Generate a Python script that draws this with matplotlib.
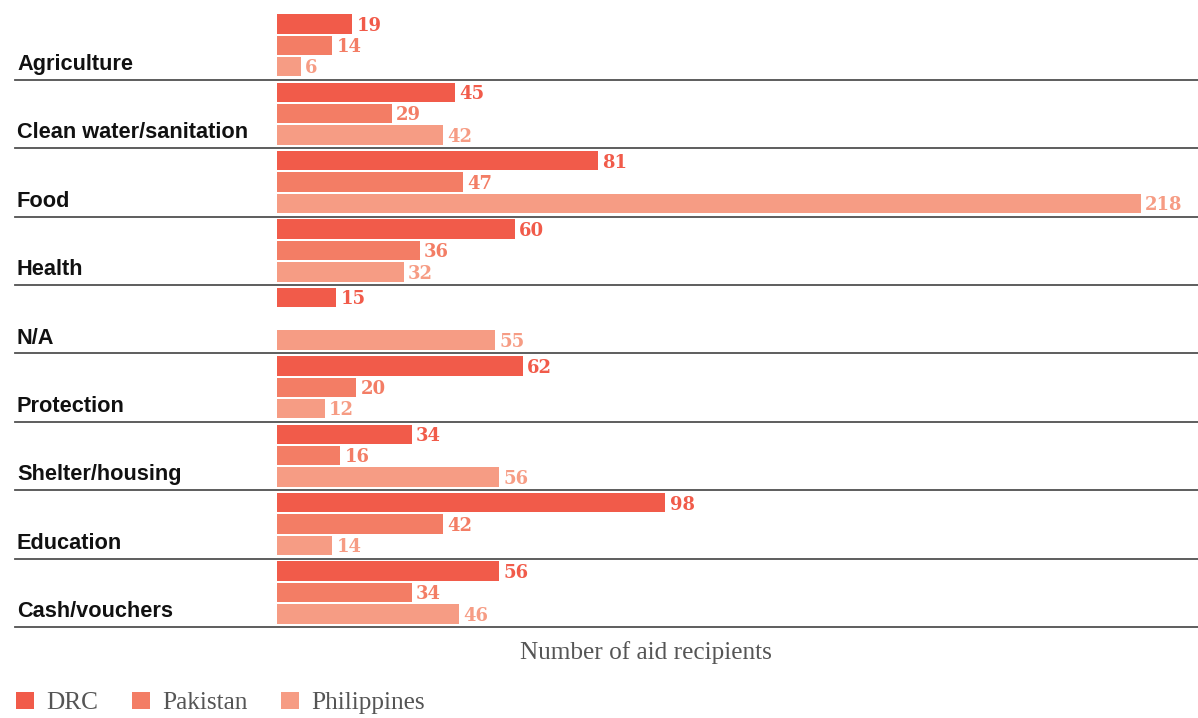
import numpy as np
import matplotlib
matplotlib.use("Agg")
import matplotlib.pyplot as plt
from matplotlib.transforms import blended_transform_factory

categories = ["Agriculture", "Clean water/sanitation", "Food", "Health", "N/A",
              "Protection", "Shelter/housing", "Education", "Cash/vouchers"]
series_names = ["DRC", "Pakistan", "Philippines"]
drc = [19, 45, 81, 60, 15, 62, 34, 98, 56]
pakistan = [14, 29, 47, 36, np.nan, 20, 16, 42, 34]
philippines = [6, 42, 218, 32, 55, 12, 56, 14, 46]
series_values = [drc, pakistan, philippines]
colors = ["#F15B4A", "#F37D65", "#F69C84"]
x_label = "Number of aid recipients"

W, H = 1198, 718
fig = plt.figure(figsize=(W / 100, H / 100), dpi=100)
ax_left, ax_right = 15, 1198
ax_top, ax_bottom = 11.4, 627.0
ax = fig.add_axes([ax_left / W, (H - ax_bottom) / H,
                   (ax_right - ax_left) / W, (ax_bottom - ax_top) / H])

px_per_unit = 3.963
zero_px = 277
ax.set_xlim(-(zero_px - ax_left) / px_per_unit, (ax_right - zero_px) / px_per_unit)
ax.set_ylim(len(categories), 0)

offsets = [-0.312, 0.0, 0.312]
bar_h = 0.285
idx = np.arange(len(categories))
handles = []
for s, (name, vals, col, off) in enumerate(zip(series_names, series_values, colors, offsets)):
    vals = np.array(vals, dtype=float)
    ypos = idx + 0.495 + off
    mask = ~np.isnan(vals)
    b = ax.barh(ypos[mask], vals[mask], height=bar_h, left=0, color=col,
                edgecolor="none", label=name)
    handles.append(b)
    for y, v in zip(ypos[mask], vals[mask]):
        ax.annotate(f"{int(v)}", xy=(v, y), xytext=(3.0, -4.9), textcoords="offset points",
                    ha="left", va="baseline", color=col, fontsize=13,
                    fontfamily="DejaVu Serif", fontweight="bold")

trans = blended_transform_factory(ax.transAxes, ax.transData)
for i, cat in enumerate(categories):
    ax.text((17 - ax_left) / (ax_right - ax_left), i + 1 - 0.142, cat, transform=trans,
            ha="left", va="baseline", fontsize=15.7, fontfamily="Liberation Sans",
            fontweight="bold", color="#111111")
    ax.axhline(i + 1, color="#505050", lw=1.3, clip_on=False, zorder=3)

for sp in ax.spines.values():
    sp.set_visible(False)
ax.set_xticks([])
ax.set_yticks([])

ax.set_xlabel(x_label, fontsize=18.2, fontfamily="Liberation Serif", color="#555555")
ax.xaxis.set_label_coords((645.5 - ax_left) / (ax_right - ax_left), -26.0 / (ax_bottom - ax_top))
ax.xaxis.label.set_va("center")

fig.legend(handles=handles, labels=series_names, loc="center left",
           bbox_to_anchor=(16 / W, (H - 703) / H), ncol=3, frameon=False,
           prop={"family": "Liberation Serif", "size": 18.2},
           labelcolor="#555555", handlelength=0.71, handleheight=0.71,
           handletextpad=0.48, columnspacing=1.34, borderpad=0, borderaxespad=0)

fig.savefig("out.png", dpi=100)
